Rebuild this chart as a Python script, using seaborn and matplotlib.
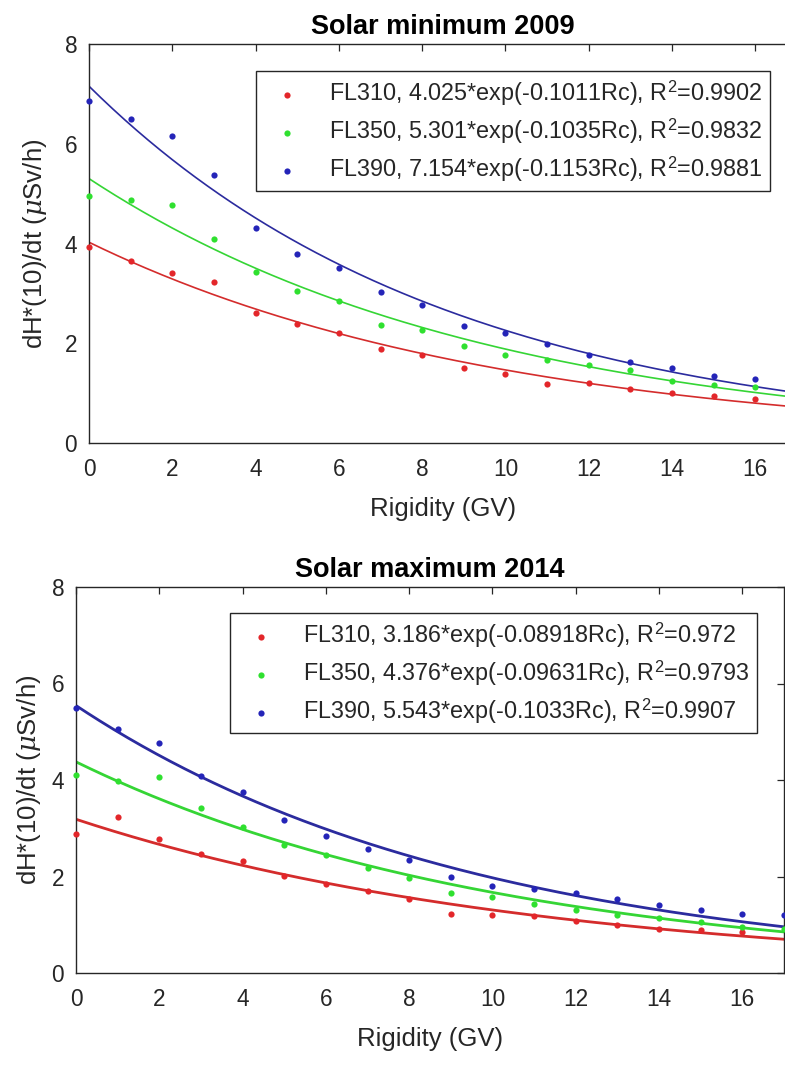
import numpy as np
import pandas as pd
import matplotlib
matplotlib.use("Agg")
import matplotlib.pyplot as plt
import seaborn as sns

# ---------------- data ----------------
series_names = ["FL310", "FL350", "FL390"]

# Solar minimum 2009
rig_min = [0, 1, 2, 3, 4, 5, 6, 7, 8, 9, 10, 11, 12, 13, 14, 15, 16]
fl310_min = [3.92, 3.65, 3.40, 3.22, 2.60, 2.38, 2.21, 1.89, 1.76, 1.51, 1.39, 1.19, 1.20, 1.08, 1.01, 0.94, 0.89]
fl350_min = [4.96, 4.87, 4.78, 4.09, 3.43, 3.05, 2.84, 2.36, 2.26, 1.94, 1.77, 1.66, 1.56, 1.46, 1.24, 1.16, 1.12]
fl390_min = [6.85, 6.50, 6.16, 5.37, 4.32, 3.78, 3.50, 3.03, 2.76, 2.34, 2.20, 1.99, 1.77, 1.63, 1.51, 1.35, 1.29]
fit_a_min = ["4.025", "5.301", "7.154"]
fit_b_min = ["0.1011", "0.1035", "0.1153"]
r2_min = ["0.9902", "0.9832", "0.9881"]

# Solar maximum 2014
rig_max_310 = [0, 1, 2, 3, 4, 5, 6, 7, 8, 9, 10, 11, 12, 13, 14, 15, 16]
rig_max_350 = [0, 1, 2, 3, 4, 5, 6, 7, 8, 9, 10, 11, 12, 13, 14, 15, 16, 17]
rig_max_390 = [0, 1, 2, 3, 4, 5, 6, 7, 8, 9, 10, 11, 12, 13, 14, 15, 16, 17]
fl310_max = [2.89, 3.24, 2.78, 2.46, 2.32, 2.01, 1.85, 1.70, 1.54, 1.23, 1.21, 1.18, 1.08, 0.99, 0.92, 0.89, 0.85]
fl350_max = [4.10, 3.98, 4.06, 3.41, 3.03, 2.65, 2.44, 2.17, 1.96, 1.66, 1.58, 1.44, 1.31, 1.21, 1.14, 1.05, 0.96, 0.92]
fl390_max = [5.50, 5.05, 4.76, 4.08, 3.76, 3.18, 2.84, 2.57, 2.35, 1.99, 1.80, 1.75, 1.65, 1.54, 1.40, 1.31, 1.23, 1.20]
fit_a_max = ["3.186", "4.376", "5.543"]
fit_b_max = ["0.08918", "0.09631", "0.1033"]
r2_max = ["0.972", "0.9793", "0.9907"]

x_ticks = [0, 2, 4, 6, 8, 10, 12, 14, 16]
y_ticks = [0, 2, 4, 6, 8]

# ---------------- style ----------------
sns.set_theme(style="white")
plt.rcParams["font.family"] = ["Liberation Sans", "DejaVu Sans"]
plt.rcParams["mathtext.fontset"] = "custom"
plt.rcParams["mathtext.rm"] = "Liberation Sans"
plt.rcParams["mathtext.it"] = "DejaVu Serif:italic"

dot_colors = ["#e3262a", "#2fe02f", "#2424b8"]
line_colors = ["#d42c2c", "#35d535", "#2b2b9e"]
axis_col = "#262626"

fig = plt.figure(figsize=(7.85, 10.66), dpi=100)
W, H = 785, 1066


def make_axes(left, top, right, bottom):
    return fig.add_axes([left / W, 1 - bottom / H, (right - left) / W, (bottom - top) / H])


ax1 = make_axes(89, 44, 797, 443)
ax2 = make_axes(76, 587, 784, 973)


def draw(ax, xs_list, ys_list, a_list, b_list, r2_list, title, lw, ylabpad):
    for i, name in enumerate(series_names):
        a = float(a_list[i]); b = float(b_list[i])
        xf = np.linspace(0, 17, 300)
        df_fit = pd.DataFrame({"x": xf, "y": a * np.exp(-b * xf)})
        sns.lineplot(data=df_fit, x="x", y="y", ax=ax, color=line_colors[i],
                     linewidth=lw, legend=False, zorder=2)
    for i, name in enumerate(series_names):
        lab = f"{name}, {a_list[i]}*exp(-{b_list[i]}Rc), R$^2$={r2_list[i]}"
        df = pd.DataFrame({"x": xs_list[i], "y": ys_list[i]})
        sns.scatterplot(data=df, x="x", y="y", ax=ax, color=dot_colors[i], s=20,
                        linewidth=0, label=lab, zorder=3, clip_on=False)
    ax.set_xlim(0, 17)
    ax.set_ylim(0, 8)
    ax.set_xticks(x_ticks)
    ax.set_yticks(y_ticks)
    ax.tick_params(direction="in", top=True, right=True, length=5, width=0.9,
                   colors=axis_col, labelsize=16.3)
    ax.tick_params(axis="x", pad=11)
    ax.tick_params(axis="y", pad=8.5)
    for sp in ax.spines.values():
        sp.set_color(axis_col)
        sp.set_linewidth(1.0)
    ax.set_xlabel("Rigidity (GV)", fontsize=18.5, color=axis_col, labelpad=11)
    ax.set_ylabel(r"dH*(10)/dt ($\mu$Sv/h)", fontsize=18.5, color=axis_col, labelpad=ylabpad)
    ax.set_title(title, fontsize=19.5, fontweight="bold", color="black", pad=7)
    leg = ax.legend(loc="upper right", bbox_to_anchor=(0.962, 0.932), fontsize=16.8,
                    frameon=True, fancybox=False, framealpha=1, edgecolor=axis_col,
                    scatterpoints=1, markerscale=1.0, labelspacing=0.36,
                    borderpad=0.32, handletextpad=0.8, borderaxespad=0)
    leg.get_frame().set_linewidth(1.0)
    for t in leg.get_texts():
        t.set_color(axis_col)


draw(ax1, [rig_min, rig_min, rig_min], [fl310_min, fl350_min, fl390_min],
     fit_a_min, fit_b_min, r2_min, "Solar minimum 2009", 1.2, 11)
draw(ax2, [rig_max_310, rig_max_350, rig_max_390], [fl310_max, fl350_max, fl390_max],
     fit_a_max, fit_b_max, r2_max, "Solar maximum 2014", 2.0, 6)

fig.savefig("out.png", dpi=100)
